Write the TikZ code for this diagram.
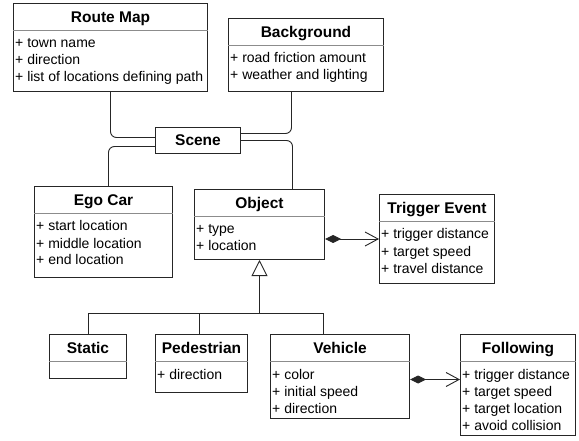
\documentclass[tikz,border=0pt]{standalone}
\usepackage{fontspec}
\setmainfont{Liberation Sans}
\usetikzlibrary{arrows.meta}
\colorlet{boxline}{black!85}
\colorlet{divline}{black!45}

\tikzset{
  classbox/.style={draw=boxline, line width=1pt, anchor=north west, inner sep=0pt},
  titletext/.style={font=\fontsize{15.5}{18}\selectfont\bfseries, inner sep=0pt, text height=11pt, text depth=0pt},
  attrtext/.style={font=\fontsize{14}{17}\selectfont, inner sep=0pt, anchor=base west},
  link/.style={draw=boxline, line width=0.9pt},
  owns/.style={link, {Diamond[length=16pt,width=8pt]}-{Straight Barb[length=13pt,width=14pt]}},
  extends/.style={link, -{Triangle[open,length=16pt,width=16pt]}}
}

% class box: name, x, y, width, height, title, attributes
\newcommand{\umlclass}[7]{%
  \node[classbox, minimum width=#4pt, minimum height=#5pt] (#1) at (#2,#3) {};
  \draw[divline, line width=0.8pt] ([yshift=-27pt]#1.north west) -- ([yshift=-27pt]#1.north east);
  \node[titletext] at ([yshift=-14pt]#1.north) {#6};
  \foreach \a [count=\i] in {#7}
    \node[attrtext] at ([xshift=2pt, yshift={-28pt-17pt*\i}]#1.north west) {+ \a};
}

\begin{document}
\begin{tikzpicture}[x=1pt,y=-1pt]
  \useasboundingbox (0,0) rectangle (579,441);

  \umlclass{routemap}{13}{3}{194}{88}{Route Map}{town name, direction, list of locations defining path}
  \umlclass{backgr}{228}{18}{155}{73}{Background}{road friction amount, weather and lighting}
  \node[classbox, minimum width=85pt, minimum height=26pt] (scene) at (155,127) {};
  \node[titletext] at (scene.center) {Scene};
  \umlclass{egocar}{34}{186}{138}{91}{Ego Car}{start location, middle location, end location}
  \umlclass{object}{194}{189}{130}{70}{Object}{type, location}
  \umlclass{trigger}{379}{194}{115}{89}{Trigger Event}{trigger distance, target speed, travel distance}
  \umlclass{static}{49}{334}{77}{44}{Static}{}
  \umlclass{pedestr}{155}{334}{92}{58}{Pedestrian}{direction}
  \umlclass{vehicle}{270}{334}{139}{84}{Vehicle}{color, initial speed, direction}
  \umlclass{following}{460}{334}{115}{101}{Following}{trigger distance, target speed, target location, avoid collision}

  % scene links
  \draw[link, rounded corners=6pt] (routemap.south) |- ([yshift=3pt]scene.west);
  \draw[link, rounded corners=6pt] ([yshift=-6pt]scene.west) -| ([xshift=5pt]egocar.north);
  \draw[link, rounded corners=6pt] ([xshift=-14.5pt]backgr.south) |- ([yshift=7pt]scene.east);
  \draw[link, rounded corners=6pt] (scene.east) -| ([xshift=33pt]object.north);

  % inheritance
  \coordinate (fork) at ([yshift=-53pt]object.south);
  \draw[link] (static.north) |- (fork);
  \draw[link] ([xshift=-2pt]pedestr.north) -- ([xshift=-2pt]pedestr.north |- fork);
  \draw[link] ([xshift=-16.5pt]vehicle.north) |- (fork);
  \draw[extends] (fork) -- (object.south);

  % composition
  \draw[owns] (object.east |- trigger.west) -- (trigger.west);
  \draw[owns] ([yshift=-3pt]vehicle.east) -- ([yshift=-3pt]vehicle.east -| following.west);
\end{tikzpicture}
\end{document}
